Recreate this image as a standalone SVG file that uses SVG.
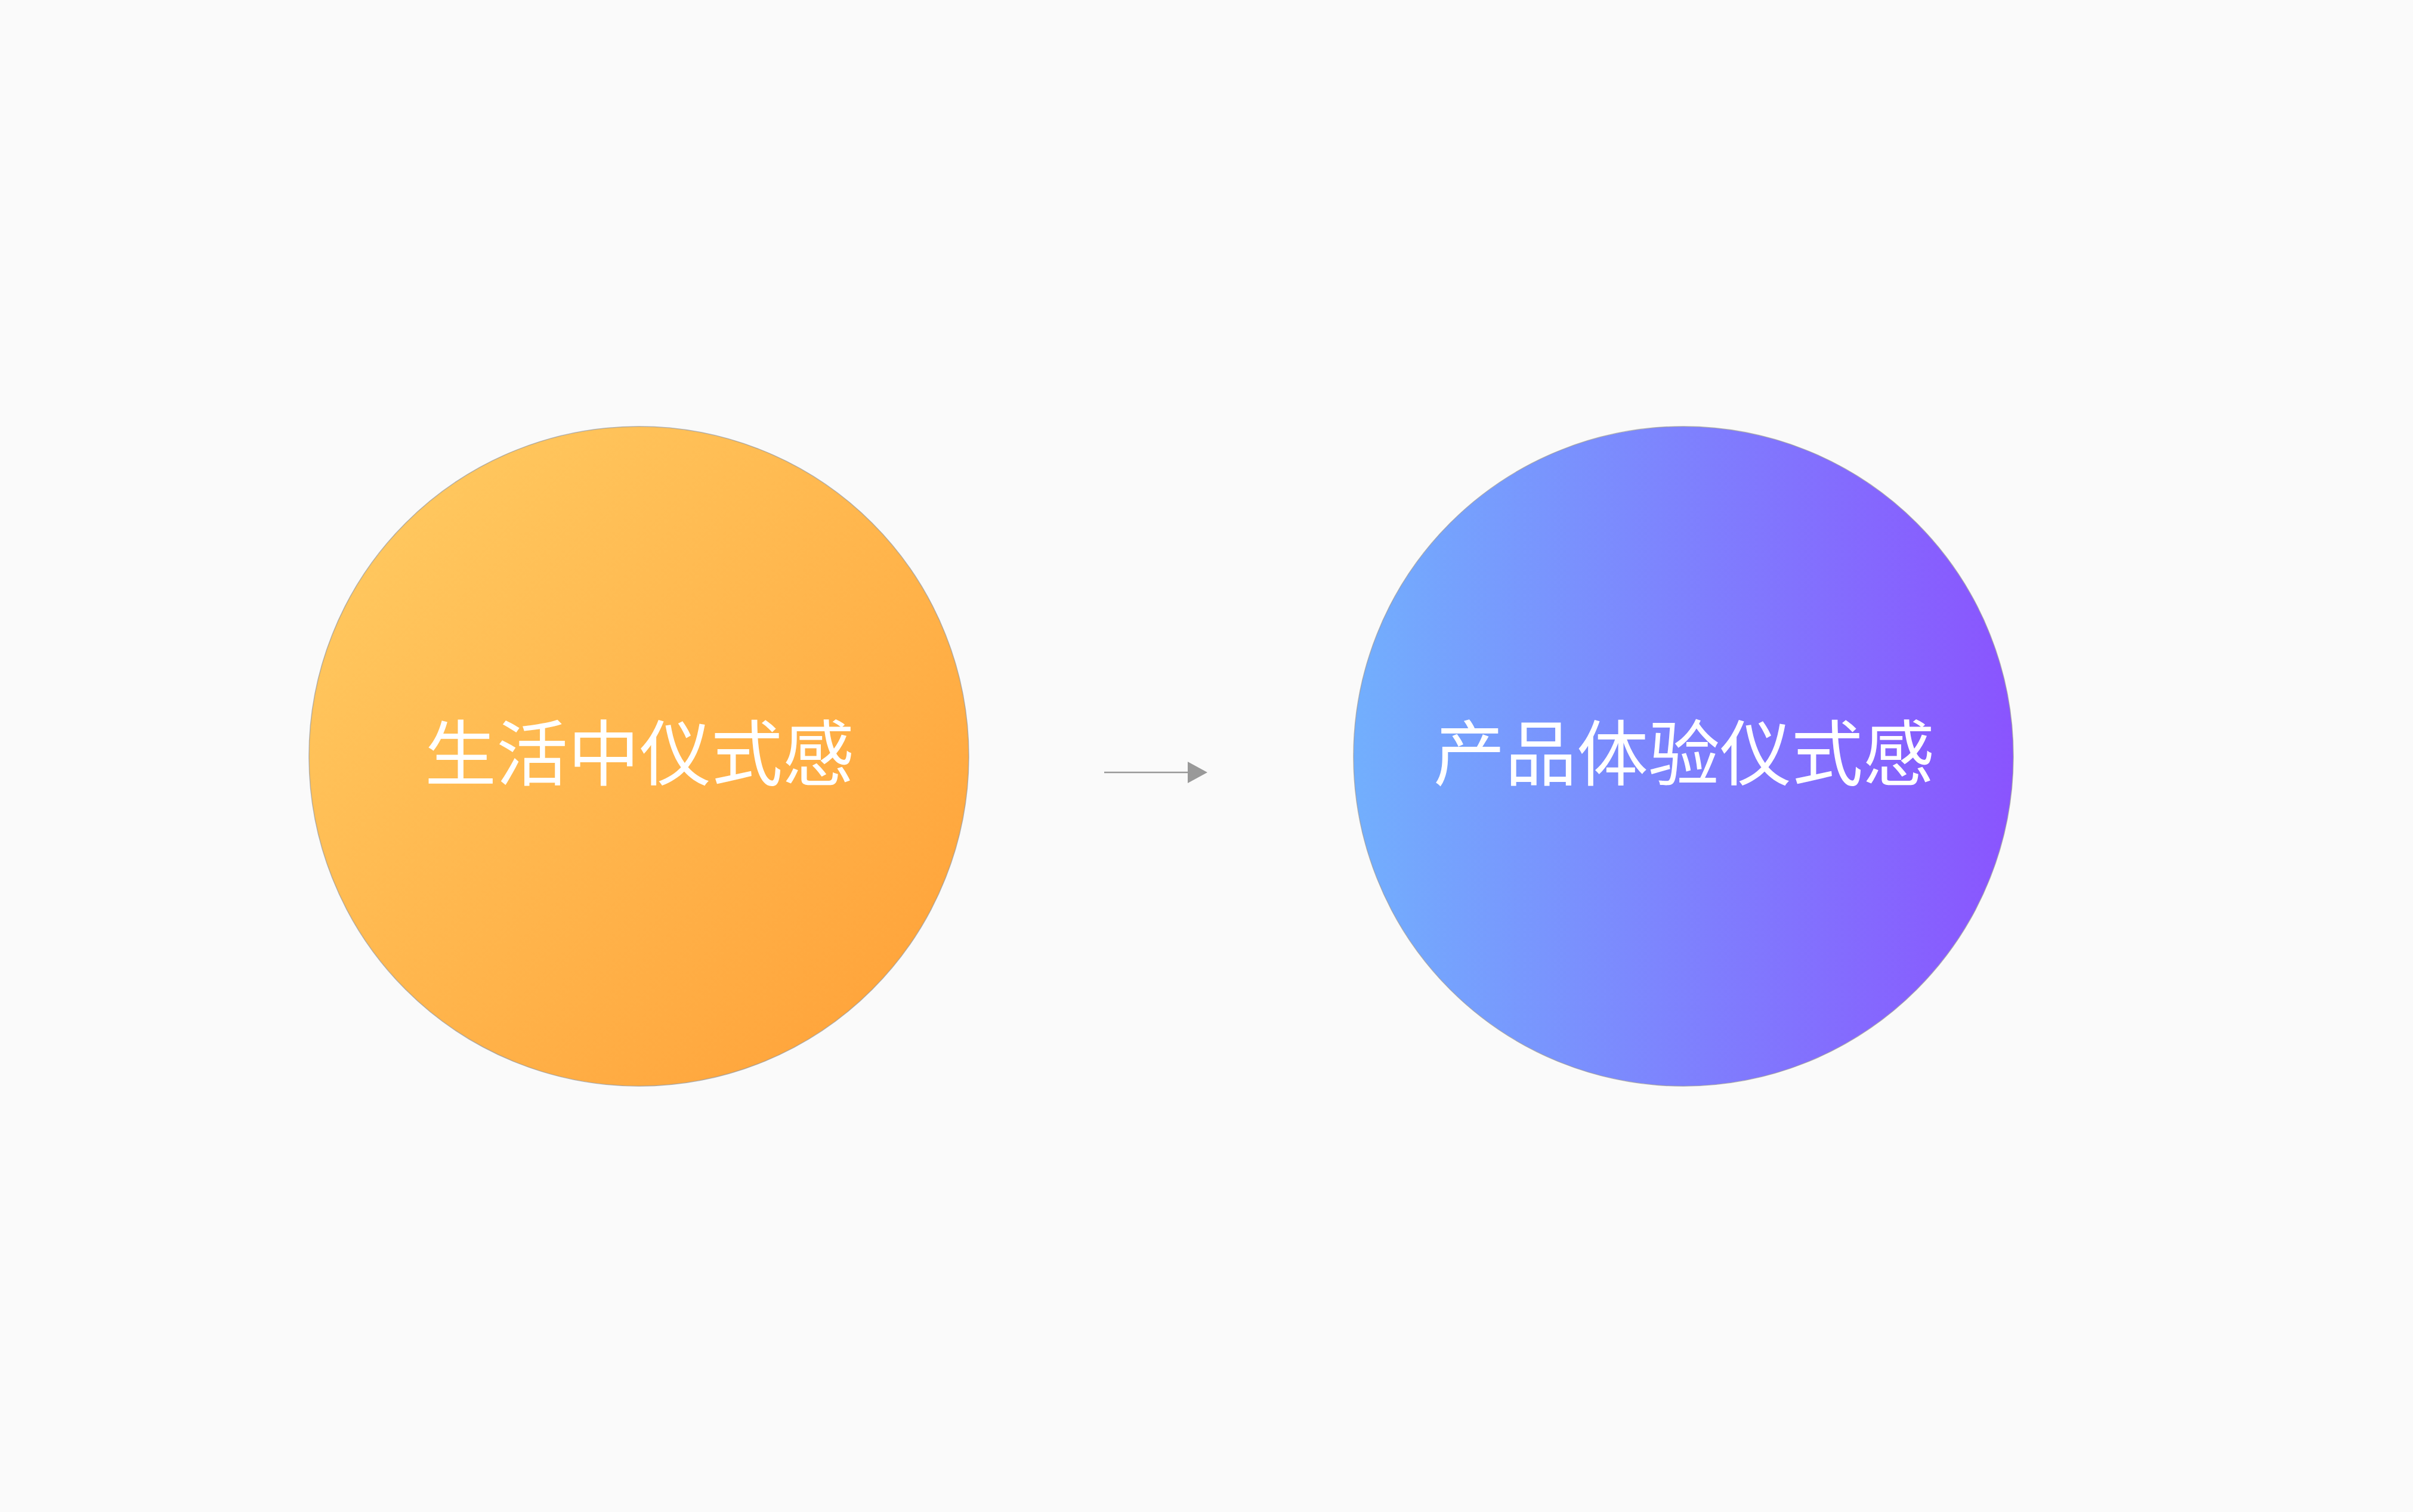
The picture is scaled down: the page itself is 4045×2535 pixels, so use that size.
<svg xmlns="http://www.w3.org/2000/svg" width="4045" height="2535" viewBox="0 0 4045 2535">
  <style>
    .node circle { stroke: #9a9a9a; stroke-width: 1.5; stroke-opacity: 0.7; }
    .label { font-family: "Noto Sans CJK SC", "Noto Sans CJK JP", sans-serif; font-size: 120px; fill: #ffffff; text-anchor: middle; }
    .edge { stroke: #999999; stroke-width: 2.5; fill: none; }
  </style>
  <defs>
    <linearGradient id="gOrange" x1="0" y1="0" x2="1" y2="1">
      <stop offset="0" stop-color="#FFCD64"/>
      <stop offset="1" stop-color="#FF9F36"/>
    </linearGradient>
    <linearGradient id="gBlue" x1="0" y1="0" x2="1" y2="0">
      <stop offset="0" stop-color="#72AFFD"/>
      <stop offset="1" stop-color="#8A54FE"/>
    </linearGradient>
    <marker id="arrow" viewBox="0 0 33 36" refX="0" refY="18" markerWidth="33" markerHeight="36" markerUnits="userSpaceOnUse" orient="auto">
      <path d="M0,0 L33,18 L0,36 Z" fill="#999999"/>
    </marker>
  </defs>
  <rect x="0" y="0" width="4045" height="2535" fill="#FAFAFA"/>
  <g id="node-life" class="node">
    <circle cx="1071" cy="1268" r="553" fill="url(#gOrange)"/>
    <text class="label" x="1072" y="1308">生活中仪式感</text>
  </g>
  <g id="node-product" class="node">
    <circle cx="2822" cy="1268" r="553" fill="url(#gBlue)"/>
    <text class="label" x="2823" y="1308">产品体验仪式感</text>
  </g>
  <g id="connectors">
    <line class="edge" x1="1851" y1="1295" x2="1991" y2="1295" marker-end="url(#arrow)"/>
  </g>
</svg>
